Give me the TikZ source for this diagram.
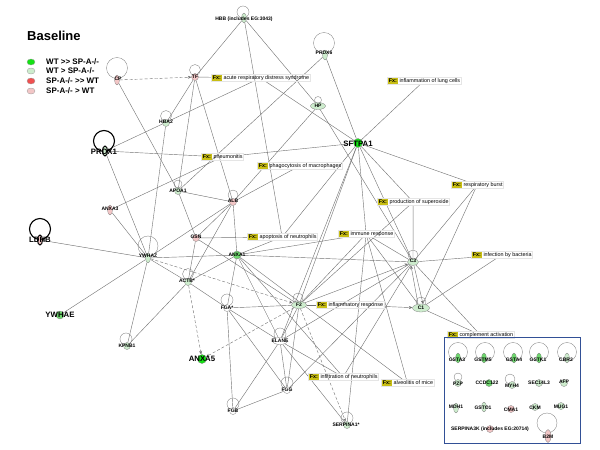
\documentclass[tikz,border=0pt]{standalone}
\usepackage{fontspec}
\setmainfont{Liberation Sans}
\usetikzlibrary{shapes.geometric,arrows.meta}
\pgfdeclarelayer{bgl}
\pgfsetlayers{bgl,main}
\definecolor{lg}{RGB}{205,236,205}
\definecolor{mg}{RGB}{110,215,110}
\definecolor{bgr}{RGB}{20,225,20}
\definecolor{pk}{RGB}{242,198,198}
\definecolor{rd}{RGB}{240,80,80}
\definecolor{fxy}{RGB}{200,190,20}
\definecolor{edc}{RGB}{115,115,115}
\definecolor{boxb}{RGB}{50,80,150}
\newcommand{\fxt}{{\setlength{\fboxsep}{1.1pt}\colorbox{fxy}{\bfseries Fx:}}\hspace{1.5pt}}
\begin{document}
\begin{tikzpicture}[x=1pt,y=-1pt,
  gc/.style={circle,draw=black!50,line width=0.3pt,minimum size=7pt,inner sep=0pt},
  ge/.style={ellipse,draw=black!50,line width=0.3pt,minimum width=15pt,minimum height=7pt,inner sep=0pt},
  gv/.style={ellipse,draw=black!50,line width=0.3pt,minimum width=5pt,minimum height=10pt,inner sep=0pt},
  lab/.style={font=\fontsize{5}{5}\selectfont\bfseries,inner sep=0pt},
  big/.style={font=\fontsize{7.8}{8}\selectfont\bfseries,inner sep=0pt},
  lp/.style={draw=black!50,line width=0.35pt},
  blp/.style={draw=black,line width=1.1pt},
  fx/.style={anchor=west,font=\fontsize{5.4}{6}\selectfont,inner sep=0.6pt,draw=black!10,line width=0.2pt},
  ed/.style={draw=edc,line width=0.42pt},
  dsh/.style={ed,dash pattern=on 3pt off 2pt},
  ar/.style={-{Stealth[length=3.5pt,width=3pt]}},
  legc/.style={ellipse,draw=black!40,line width=0.3pt,minimum width=8pt,minimum height=6pt,inner sep=0pt},
  legt/.style={anchor=west,font=\fontsize{8}{8}\selectfont\bfseries,inner sep=0pt}
]
\path[use as bounding box] (0,0) rectangle (600,450);

% title and legend
\node[anchor=west,font=\fontsize{13}{13}\selectfont\bfseries,inner sep=0pt] (title) at (27,36) {Baseline};
\node[legc,fill=bgr] (l1) at (31,62) {}; \node[legt] (t1) at (46,62) {WT >{}> SP-A-/-};
\node[legc,fill=lg] (l2) at (31,71) {}; \node[legt] (t2) at (46,71) {WT > SP-A-/-};
\node[legc,fill=rd] (l3) at (31,81) {}; \node[legt] (t3) at (46,81) {SP-A-/- >{}> WT};
\node[legc,fill=pk] (l4) at (31,91) {}; \node[legt] (t4) at (46,91) {SP-A-/- > WT};

% genes
\draw[lp] (117,68) circle (10.5pt);
\node[gv,fill=pk] (cp) at (117,80) {}; \node[lab] at (118,79) {CP};
\draw[lp] (195,70) circle (5.5pt);
\node[gc,fill=pk] (tf) at (195,77) {}; \node[lab] at (195,77) {TF};
\draw[lp] (243,12) circle (6pt);
\node[gv,fill=lg] (hbb) at (244,18) {}; \node[lab] at (244,19) {HBB (includes EG:3043)};
\draw[lp] (324,43) circle (10.5pt);
\node[gv,fill=lg] (prdx6) at (325,55) {}; \node[lab] at (324,53) {PRDX6};
\draw[lp] (318,100) circle (3.5pt);
\node[ge,fill=lg] (hp) at (318,106) {}; \node[lab] at (318,106) {HP};
\node[gc,fill=bgr,minimum size=9pt] (sftpa1) at (358,143) {}; \node[big] at (358,144) {SFTPA1};
\draw[lp] (166,116) circle (5.5pt);
\node[gc,fill=lg] (hba2) at (166,123) {}; \node[lab] at (166,122) {HBA2};
\draw[blp] (104,141) circle (10.5pt);
\node[gv,fill=lg,draw=black,line width=1pt] (prdx1) at (105,151) {}; \node[big] at (104,152) {PRDX1};
\draw[lp] (178,184) circle (4pt);
\node[gc,fill=lg] (apoa1) at (178,191) {}; \node[lab] at (178,191) {APOA1};
\node[gv,fill=pk] (anxa3) at (110,210) {}; \node[lab] at (110,209) {ANXA3};
\draw[lp] (233,195) circle (5pt);
\node[gc,fill=pk] (alb) at (233,202) {}; \node[lab] at (233,201) {ALB};
\draw[blp] (40,229) circle (10.5pt);
\node[gv,fill=pk,draw=black,line width=1pt] (ldhb) at (40,240) {}; \node[big] at (40,240) {LDHB};
\node[gc,fill=pk] (gsn) at (196,238) {}; \node[lab] at (196,237) {GSN};
\draw[lp] (148,246) circle (10pt);
\node[gv,fill=lg] (ywhaz) at (148,258) {}; \node[lab] at (148,256) {YWHAZ};
\node[gc,fill=mg,minimum size=8pt] (anxa1) at (237,255) {}; \node[lab] at (237,255) {ANXA1};
\draw[lp] (188,274) circle (5.5pt);
\node[gc,fill=lg] (actb) at (188,282) {}; \node[lab] at (187,281) {ACTB*};
\draw[lp] (413,255) circle (5pt);
\node[ge,fill=lg,minimum width=11pt] (c3) at (413,262) {}; \node[lab] at (413,261) {C3};
\draw[lp] (421,302) circle (5pt);
\node[ge,fill=lg,minimum width=17pt,minimum height=8pt] (c1) at (421,308) {}; \node[lab] at (421,308) {C1};
\draw[lp] (298,298) circle (5pt);
\node[ge,fill=lg] (f2) at (299,305) {}; \node[lab] at (299,305) {F2};
\draw[lp] (280,334) circle (6pt);
\node[ge,fill=white] (elane) at (280,341) {}; \node[lab] at (280,341) {ELANE};
\draw[lp] (227,300) circle (6pt);
\node[gc,fill=white] (fga) at (227,308) {}; \node[lab] at (227,308) {FGA*};
\draw[lp] (287,383) circle (6pt);
\node[gc,fill=white] (fgg) at (287,390) {}; \node[lab] at (287,390) {FGG};
\draw[lp] (233,404) circle (6pt);
\node[gc,fill=white] (fgb) at (233,411) {}; \node[lab] at (233,411) {FGB};
\draw[lp] (347,418) circle (6pt);
\node[gc,fill=lg] (serpina1) at (347,425) {}; \node[lab] at (346,425) {SERPINA1*};
\draw[lp] (126,339) circle (6pt);
\node[gc,fill=lg] (kpnb1) at (127,346) {}; \node[lab] at (127,346) {KPNB1};
\node[gc,fill=mg,minimum size=8pt] (ywhae) at (60,315) {}; \node[big] at (60,315) {YWHAE};
\node[gc,fill=bgr,minimum size=9pt] (anxa5) at (202,359) {}; \node[big] at (202,359) {ANXA5};

% functions
\node[fx] (ards) at (211,78) {\fxt acute respiratory distress syndrome};
\node[fx] (ilc) at (387,81) {\fxt inflammation of lung cells};
\node[fx] (pneu) at (201,157) {\fxt pneumonitis};
\node[fx] (phago) at (257,166) {\fxt phagocytosis of macrophages};
\node[fx] (supox) at (377,202) {\fxt production of superoxide};
\node[fx] (rburst) at (451,185) {\fxt respiratory burst};
\node[fx] (infb) at (471,255) {\fxt infection by bacteria};
\node[fx] (immune) at (338,234) {\fxt immune response};
\node[fx] (apopt) at (247,237) {\fxt apoptosis of neutrophils};
\node[fx] (inflam) at (316,305) {\fxt inflammatory response};
\node[fx] (infil) at (308,377) {\fxt infiltration of neutrophils};
\node[fx] (alveo) at (381,383) {\fxt alveolitis of mice};
\node[fx] (compl) at (447,335) {\fxt complement activation};

% group box
\node[draw=boxb,line width=1.3pt,minimum width=136pt,minimum height=106pt,anchor=north west,inner sep=0pt] (grp) at (444,337) {};
\foreach \xx in {458,485,513,539,567} {\draw[lp] (\xx,352) circle (9.5pt);}
\node[gv,fill=mg] (g1) at (458,358) {}; \node[lab] at (457,360) {GSTA3};
\node[gv,fill=mg] (g2) at (484,358) {}; \node[lab] at (483,360) {GSTM5};
\node[gv,fill=mg] (g3) at (514,358) {}; \node[lab] at (514,360) {GSTA4};
\node[gv,fill=mg] (g4) at (539,358) {}; \node[lab] at (538,360) {GSTK1};
\node[gv,fill=lg] (g5) at (567,358) {}; \node[lab] at (566,360) {CBR2};
\draw[lp] (458,377) circle (4pt);
\node[gc,fill=lg] (g6) at (458,383) {}; \node[lab] at (458,384) {PZP};
\node[gc,fill=mg] (g7) at (489,383) {}; \node[lab] at (487,383) {CCDC122};
\draw[lp] (510,379) circle (5pt);
\node[gc,fill=lg] (g8) at (512,385) {}; \node[lab] at (512,386) {MYH4};
\node[gc,fill=lg] (g9) at (539,383) {}; \node[lab] at (539,383) {SEC14L3};
\node[gc,fill=lg] (g10) at (564,383) {}; \node[lab] at (564,382) {AFP};
\node[gv,fill=lg] (g11) at (456,408) {}; \node[lab] at (456,407) {MDH1};
\node[gv,fill=lg] (g12) at (484,407) {}; \node[lab] at (483,408) {GSTO1};
\node[gc,fill=pk] (g13) at (511,409) {}; \node[lab] at (511,410) {CMA1};
\node[gc,fill=lg] (g14) at (535,407) {}; \node[lab] at (535,408) {CKM};
\node[gc,fill=lg] (g15) at (561,406) {}; \node[lab] at (561,407) {MUG1};
\node[gc,fill=pk] (g16) at (490,429) {}; \node[lab] at (490,429) {SERPINA3K (includes EG:20714)};
\draw[lp] (547,423) circle (10pt);
\node[gv,fill=pk,minimum height=13pt,minimum width=6pt] (g17) at (548,436) {}; \node[lab] at (548,437) {B2M};

% edges
\begin{pgfonlayer}{bgl}
\foreach \a/\b in {cp/apoa1,tf/hbb,tf/hba2,tf/apoa1,tf/alb,tf/ards,ards/sftpa1,hbb/hp,hbb/apopt,
  prdx6/sftpa1,apoa1/prdx6,hp/alb,hp/c3,prdx1/ards,prdx1/pneu,pneu/sftpa1,anxa3/pneu,
  sftpa1/ilc,sftpa1/rburst,sftpa1/supox,sftpa1/immune,sftpa1/c3,sftpa1/apopt,sftpa1/f2,sftpa1/elane,
  phago/alb,hba2/ywhaz,prdx1/ywhaz,anxa3/ywhaz,ldhb/ywhaz,ywhae/ywhaz,kpnb1/ywhaz,kpnb1/actb,
  ywhaz/actb,ywhaz/anxa1,ywhaz/alb,apoa1/alb,apoa1/gsn,alb/anxa1,alb/gsn,alb/actb,gsn/apopt,
  gsn/actb,gsn/f2,anxa1/immune,anxa1/apopt,anxa1/c3,anxa1/fga,anxa1/elane,anxa1/actb,actb/fga,
  fga/f2,fga/fgb,fga/fgg,fga/elane,elane/f2,elane/infil,elane/fgb,elane/c3,f2/immune,f2/inflam,
  f2/fgg,c3/rburst,c1/rburst,c3/supox,c3/infb,c1/infb,c1/compl,c3/compl,immune/c3,immune/c1,
  fgg/fgb,fgg/c3,fgg/elane,serpina1/immune,serpina1/elane,infil/c3,infil/anxa1,alveo/immune,
  alveo/anxa1,supox/f2}
  {\draw[ed] (\a) -- (\b);}
\draw[dsh,ar] (cp) -- (tf);
\draw[dsh,ar] (ywhaz) -- (f2);
\draw[dsh,ar] (actb) -- (anxa5);
\draw[dsh,ar] (f2) -- (anxa5);
\draw[dsh,ar] (f2) -- (serpina1);
\draw[ed,ar] (inflam) -- (c1);
\draw[ed,ar] (f2) -- (c3);
\draw[ed,ar] ([xshift=-3pt]c1.north) -- ([xshift=-2pt]c3.south);
\draw[ed,ar] ([xshift=1pt]c3.south) -- ([xshift=2pt]c1.north);
\end{pgfonlayer}
\end{tikzpicture}
\end{document}
